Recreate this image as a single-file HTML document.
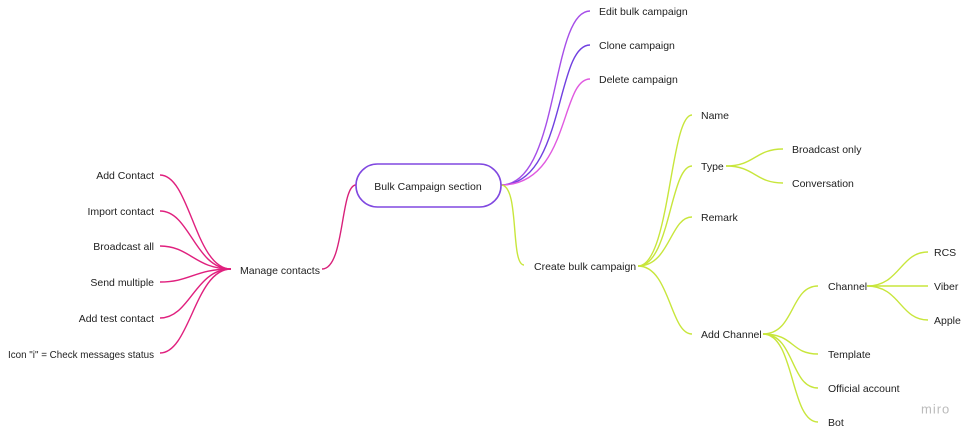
<!DOCTYPE html>
<html><head><meta charset="utf-8"><style>
body{margin:0;background:#fff;}
svg{display:block;}
text{font-family:"Liberation Sans",sans-serif;font-size:10.5px;fill:#222;dominant-baseline:middle;}
</style></head><body>
<svg width="975" height="435" viewBox="0 0 975 435">
<g fill="none" stroke-width="1.4">
<path d="M356 185 C340 185,345 269,322 269" stroke="#d8207a"/>
<g stroke="#e0207e">
<path d="M231 269 C195 269,190 175,160 175"/>
<path d="M231 269 C195 269,190 211,160 211"/>
<path d="M231 269 C195 269,190 246,160 246"/>
<path d="M231 269 C195 269,190 282,160 282"/>
<path d="M231 269 C195 269,190 318,160 318"/>
<path d="M231 269 C195 269,190 353,160 353"/>
</g>
<path d="M501 185 C560 185,550 11,590 11" stroke="#a64ee8"/>
<path d="M501 185 C565 185,555 45,590 45" stroke="#7040e0"/>
<path d="M501 185 C570 185,560 79,590 79" stroke="#e05ae0"/>
<g stroke="#c8e63c">
<path d="M501 185 C520 185,510 265,524 265"/>
<path d="M638 266 C670 266,670 115,692 115"/>
<path d="M638 266 C670 266,670 166,692 166"/>
<path d="M638 266 C670 266,670 217,692 217"/>
<path d="M638 266 C670 266,670 334,692 334"/>
<path d="M726 166 C755 166,755 149,783 149"/>
<path d="M726 166 C755 166,755 183,783 183"/>
<path d="M763 334 C795 334,790 286,818 286"/>
<path d="M763 334 C795 334,790 354,818 354"/>
<path d="M763 334 C795 334,790 388,818 388"/>
<path d="M763 334 C795 334,790 422,818 422"/>
<path d="M867 286 C900 286,900 252,928 252"/>
<path d="M867 286 L928 286"/>
<path d="M867 286 C900 286,900 320,928 320"/>
</g>
<rect x="356" y="164" width="145" height="43" rx="21.5" fill="#fff" stroke="#8048e0" stroke-width="1.6"/>
</g>
<text x="428" y="187" text-anchor="middle">Bulk Campaign section</text>
<text x="240" y="271">Manage contacts</text>
<g text-anchor="end">
<text x="154" y="176">Add Contact</text>
<text x="154" y="212">Import contact</text>
<text x="154" y="247">Broadcast all</text>
<text x="154" y="283">Send multiple</text>
<text x="154" y="319">Add test contact</text>
</g>
<text x="8" y="355" textLength="146" lengthAdjust="spacingAndGlyphs">Icon "i" = Check messages status</text>
<text x="599" y="12">Edit bulk campaign</text>
<text x="599" y="46">Clone campaign</text>
<text x="599" y="80">Delete campaign</text>
<text x="534" y="267">Create bulk campaign</text>
<text x="701" y="116">Name</text>
<text x="701" y="167">Type</text>
<text x="701" y="218">Remark</text>
<text x="701" y="335">Add Channel</text>
<text x="792" y="150">Broadcast only</text>
<text x="792" y="184">Conversation</text>
<text x="828" y="287">Channel</text>
<text x="828" y="355">Template</text>
<text x="828" y="389">Official account</text>
<text x="828" y="423">Bot</text>
<text x="934" y="253">RCS</text>
<text x="934" y="287">Viber</text>
<text x="934" y="321">Apple</text>
<text x="921" y="410" style="font-size:13px;fill:#bbb;letter-spacing:1px">miro</text>
</svg>
</body></html>
